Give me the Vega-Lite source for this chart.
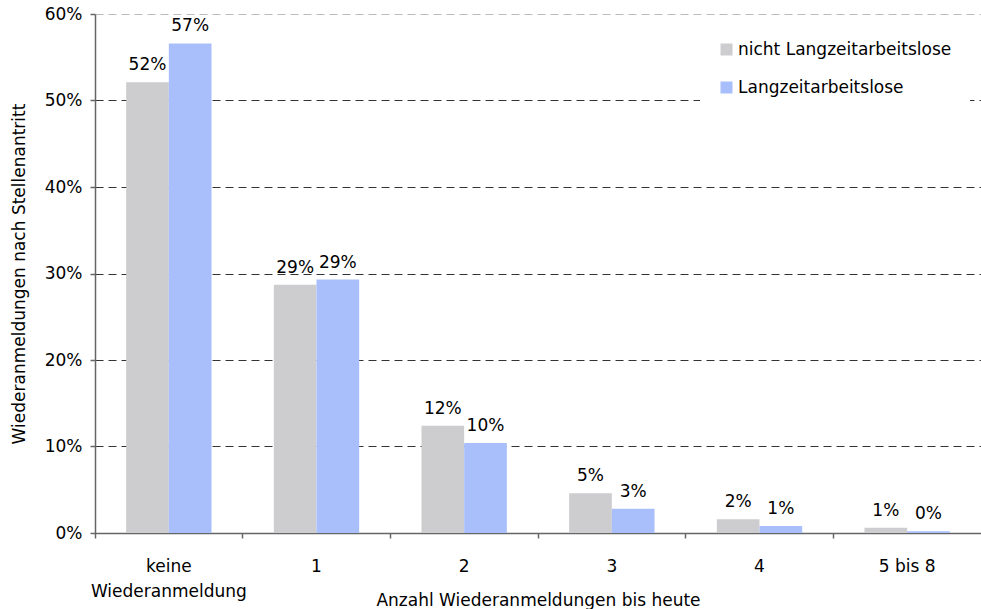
{
  "$schema": "https://vega.github.io/schema/vega-lite/v6.json",
  "width": 886,
  "height": 519,
  "autosize": "none",
  "padding": {"left": 95, "top": 14, "right": 0, "bottom": 76},
  "background": "white",
  "config": {
    "font": "DejaVu Sans",
    "view": {"stroke": null}
  },
  "data": {
    "values": [
      {"cat": "keine Wiederanmeldung", "group": "nicht Langzeitarbeitslose", "value": 0.521},
      {"cat": "keine Wiederanmeldung", "group": "Langzeitarbeitslose", "value": 0.566},
      {"cat": "1", "group": "nicht Langzeitarbeitslose", "value": 0.287},
      {"cat": "1", "group": "Langzeitarbeitslose", "value": 0.293},
      {"cat": "2", "group": "nicht Langzeitarbeitslose", "value": 0.124},
      {"cat": "2", "group": "Langzeitarbeitslose", "value": 0.104},
      {"cat": "3", "group": "nicht Langzeitarbeitslose", "value": 0.046},
      {"cat": "3", "group": "Langzeitarbeitslose", "value": 0.028},
      {"cat": "4", "group": "nicht Langzeitarbeitslose", "value": 0.016},
      {"cat": "4", "group": "Langzeitarbeitslose", "value": 0.008},
      {"cat": "5 bis 8", "group": "nicht Langzeitarbeitslose", "value": 0.006},
      {"cat": "5 bis 8", "group": "Langzeitarbeitslose", "value": 0.002}
    ]
  },
  "encoding": {
    "x": {
      "field": "cat",
      "type": "nominal",
      "sort": null,
      "scale": {"paddingInner": 0, "paddingOuter": 0},
      "axis": {
        "title": "Anzahl Wiederanmeldungen bis heute",
        "titleFontSize": 17,
        "titleFontWeight": "normal",
        "titleColor": "#000",
        "titleY": 59,
        "titleBaseline": "top",
        "labelAngle": 0,
        "labelFontSize": 17,
        "labelColor": "#000",
        "labelPadding": 20,
        "labelLineHeight": 25,
        "labelExpr": "datum.label == 'keine Wiederanmeldung' ? ['keine', 'Wiederanmeldung'] : datum.label",
        "bandPosition": 0,
        "ticks": true,
        "tickSize": 5,
        "tickColor": "#666",
        "tickWidth": 1.5,
        "domainColor": "#666",
        "domainWidth": 1.5,
        "grid": false
      }
    },
    "xOffset": {
      "field": "group",
      "type": "nominal",
      "sort": ["nicht Langzeitarbeitslose", "Langzeitarbeitslose"],
      "scale": {"paddingInner": 0, "paddingOuter": 0.73}
    },
    "y": {
      "field": "value",
      "type": "quantitative",
      "scale": {"domain": [0, 0.6], "nice": false},
      "axis": {
        "title": "Wiederanmeldungen nach Stellenantritt",
        "titleFontSize": 17,
        "titleFontWeight": "normal",
        "titleColor": "#000",
        "titlePadding": 16,
        "format": ".0%",
        "values": [0, 0.1, 0.2, 0.3, 0.4, 0.5, 0.6],
        "labelFontSize": 17,
        "labelColor": "#000",
        "labelPadding": 8,
        "tickSize": 5,
        "tickColor": "#666",
        "tickWidth": 1.5,
        "domainColor": "#666",
        "domainWidth": 1.5,
        "grid": true,
        "gridDash": [8, 5],
        "gridWidth": 1,
        "gridColor": {"condition": {"test": "datum.value >= 0.599", "value": "#bbbbbb"}, "value": "#333333"}
      }
    }
  },
  "layer": [
    {
      "mark": {"type": "bar"},
      "encoding": {
        "color": {
          "field": "group",
          "type": "nominal",
          "scale": {
            "domain": ["nicht Langzeitarbeitslose", "Langzeitarbeitslose"],
            "range": ["#cdcdcf", "#a9bffb"]
          },
          "legend": {
            "title": null,
            "orient": "none",
            "legendX": 605,
            "legendY": 9,
            "padding": 18,
            "fillColor": "white",
            "symbolType": "square",
            "symbolSize": 144,
            "symbolStrokeWidth": 0,
            "labelFontSize": 17,
            "labelColor": "#000",
            "labelOffset": 3,
            "labelLimit": 0,
            "rowPadding": 20
          }
        }
      }
    },
    {
      "mark": {"type": "text", "baseline": "bottom", "dy": -8, "fontSize": 17, "color": "#000"},
      "encoding": {
        "text": {"field": "value", "type": "quantitative", "format": ".0%"}
      }
    }
  ]
}
